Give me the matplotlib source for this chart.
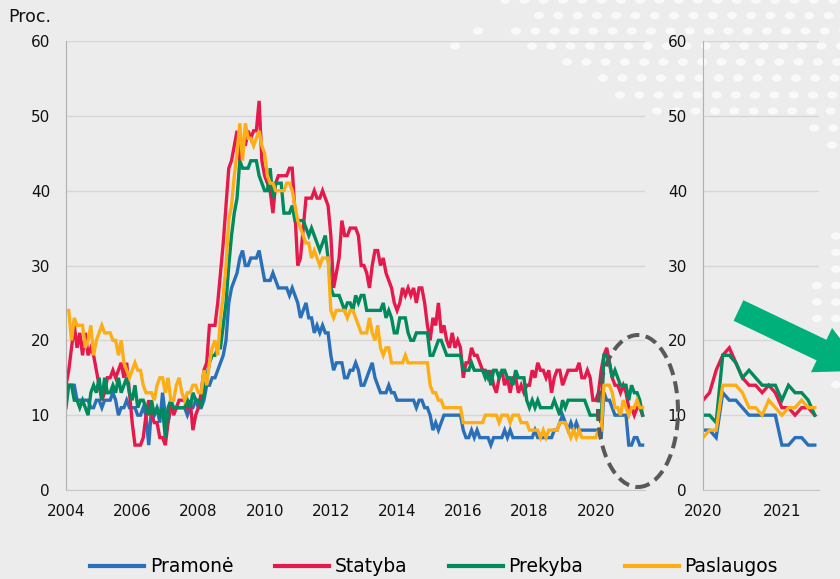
import numpy as np
import matplotlib
matplotlib.use("Agg")
import matplotlib.pyplot as plt
from matplotlib.patches import Ellipse, Polygon

# ---------------- data (monthly, Jan 2004 - Jun 2021, %) ----------------
start_year = 2004
pramone = [
    14, 14, 14, 14, 12, 12, 12, 12, 12, 11, 11, 12,   # 2004
    12, 11, 12, 12, 12, 13, 12, 10, 11, 11, 12, 11,   # 2005
    11, 11, 10, 10, 11, 10, 6, 11, 10, 11, 9, 13,     # 2006
    10, 9, 11, 11, 11, 11, 11, 11, 10, 11, 11, 12,    # 2007
    11, 11, 12, 14, 14, 15, 15, 16, 17, 18, 20, 25,   # 2008
    27, 28, 29, 31, 32, 30, 30, 31, 31, 31, 32, 30,   # 2009
    28, 28, 28, 29, 28, 27, 27, 27, 27, 26, 27, 26,   # 2010
    25, 23, 24, 25, 23, 23, 21, 22, 21, 22, 21, 21,   # 2011
    18, 16, 17, 17, 17, 15, 15, 16, 16, 17, 16, 14,   # 2012
    14, 15, 16, 17, 15, 14, 13, 13, 13, 14, 13, 13,   # 2013
    12, 12, 12, 12, 12, 12, 12, 11, 12, 12, 11, 11,   # 2014
    10, 8, 9, 8, 9, 10, 10, 10, 10, 10, 10, 10,       # 2015
    8, 7, 7, 8, 7, 8, 7, 7, 7, 7, 6, 7,               # 2016
    7, 7, 7, 8, 7, 8, 7, 7, 7, 7, 7, 7,               # 2017
    7, 7, 8, 7, 7, 7, 7, 7, 7, 8, 8, 9,               # 2018
    10, 9, 8, 9, 8, 9, 8, 8, 8, 8, 8, 8,              # 2019
    8, 8, 7, 13, 12, 12, 11, 10, 10, 10, 10, 10,      # 2020
    6, 6, 7, 7, 6, 6,                                 # 2021
]
statyba = [
    14, 16, 19, 22, 19, 21, 18, 21, 18, 19, 18, 16,
    14, 12, 13, 15, 15, 16, 15, 16, 17, 15, 17, 13,
    9, 6, 6, 6, 7, 10, 12, 10, 9, 9, 7, 7,
    6, 9, 12, 10, 11, 12, 12, 12, 11, 12, 8, 10,
    11, 13, 16, 17, 22, 22, 22, 25, 29, 33, 38, 43,
    44, 46, 48, 44, 47, 46, 48, 47, 48, 48, 52, 44,
    42, 41, 40, 37, 41, 42, 42, 42, 42, 43, 43, 37,
    30, 31, 35, 39, 39, 39, 40, 39, 39, 40, 39, 38,
    34, 27, 29, 31, 36, 34, 34, 35, 35, 35, 34, 30,
    30, 29, 27, 30, 32, 32, 30, 31, 29, 28, 27, 25,
    24, 25, 27, 26, 27, 26, 27, 25, 27, 27, 25, 22,
    20, 23, 22, 25, 21, 22, 20, 19, 21, 19, 20, 19,
    15, 17, 17, 19, 18, 18, 17, 16, 16, 15, 16, 14,
    13, 15, 16, 14, 15, 13, 15, 15, 13, 14, 13, 14,
    14, 16, 15, 17, 16, 16, 15, 16, 13, 15, 16, 16,
    14, 15, 16, 16, 16, 16, 17, 15, 15, 16, 15, 12,
    12, 13, 16, 18, 19, 17, 15, 14, 14, 13, 14, 13,
    11, 11, 10, 11, 11, 10,
]
prekyba = [
    11, 14, 14, 12, 12, 11, 12, 11, 10, 13, 14, 13,
    15, 12, 15, 13, 13, 14, 13, 15, 13, 14, 15, 13,
    12, 14, 11, 12, 12, 11, 10, 12, 10, 11, 10, 11,
    7, 11, 12, 11, 11, 11, 11, 11, 12, 11, 13, 12,
    12, 11, 13, 15, 17, 18, 18, 19, 19, 22, 25, 30,
    34, 37, 39, 44, 43, 43, 43, 44, 44, 44, 42, 41,
    40, 40, 43, 39, 41, 41, 41, 37, 37, 37, 38, 36,
    36, 36, 36, 35, 34, 35, 34, 33, 32, 33, 34, 31,
    27, 26, 26, 26, 25, 24, 25, 25, 24, 26, 25, 26,
    26, 24, 24, 24, 24, 24, 24, 25, 23, 24, 23, 21,
    21, 23, 23, 23, 21, 20, 20, 21, 21, 21, 21, 21,
    18, 18, 19, 20, 20, 19, 18, 18, 18, 18, 18, 18,
    16, 16, 16, 17, 16, 16, 16, 16, 15, 16, 14, 16,
    16, 15, 16, 16, 15, 15, 14, 16, 15, 15, 15, 12,
    11, 12, 11, 12, 11, 11, 11, 11, 11, 12, 11, 10,
    12, 11, 12, 12, 12, 12, 12, 12, 12, 11, 10, 10,
    10, 10, 9, 18, 18, 17, 15, 16, 15, 14, 14, 14,
    12, 14, 13, 13, 12, 10,
]
paslaugos = [
    24, 24, 20, 23, 22, 22, 22, 19, 20, 22, 18, 20,
    21, 22, 21, 21, 21, 20, 20, 18, 20, 17, 16, 15,
    16, 17, 16, 16, 14, 13, 13, 13, 12, 14, 15, 15,
    13, 15, 12, 12, 14, 15, 13, 12, 13, 13, 14, 14,
    13, 13, 16, 14, 17, 19, 20, 18, 23, 26, 30, 36,
    38, 42, 45, 49, 44, 49, 47, 47, 46, 47, 48, 46,
    45, 42, 41, 41, 40, 40, 40, 40, 41, 41, 40, 38,
    36, 35, 34, 33, 33, 31, 32, 31, 30, 31, 31, 31,
    24, 23, 24, 24, 24, 24, 23, 24, 24, 23, 22, 21,
    21, 21, 23, 21, 20, 22, 19, 18, 19, 19, 17, 17,
    17, 17, 17, 18, 17, 17, 17, 17, 17, 17, 17, 17,
    14, 13, 13, 12, 12, 11, 11, 11, 11, 11, 11, 11,
    9, 9, 9, 9, 9, 9, 9, 9, 10, 10, 10, 10,
    10, 9, 10, 10, 10, 9, 10, 10, 10, 9, 9, 9,
    8, 8, 8, 8, 7, 8, 7, 8, 8, 8, 8, 9,
    9, 9, 8, 7, 8, 7, 8, 7, 7, 7, 7, 7,
    7, 8, 8, 14, 14, 14, 13, 11, 11, 10, 12, 11,
    10, 11, 11, 12, 11, 11,
]
series_names = ["Pramonė", "Statyba", "Prekyba", "Paslaugos"]
series_colors = ["#2a70b8", "#e5194b", "#008a5e", "#fdae17"]
series = [pramone, statyba, prekyba, paslaugos]

main_xticks = [2004, 2006, 2008, 2010, 2012, 2014, 2016, 2018, 2020]
inset_xticks = [2020, 2021]
yticks = [0, 10, 20, 30, 40, 50, 60]
inset_start = 2020

# ---------------- figure ----------------
W, H = 840, 579
BG = "#ececec"
fig = plt.figure(figsize=(W / 100, H / 100), dpi=100, facecolor=BG)

def fx(px):
    return px / W

def fy(py):
    return 1 - py / H

def dot(x, y):
    fig.patches.append(Ellipse((fx(x), fy(y)), 10 / W, 7.5 / H,
                               transform=fig.transFigure, color="#f9f9f9",
                               zorder=-5, lw=0))

# decorative dot pattern (background)
dot_rows = [(0, 505), (15.5, 539), (31, 516), (46, 532), (62, 567), (78, 603),
            (95, 620), (111, 657), (128, 814), (145, 832)]
for ry, x0 in dot_rows:
    x = x0
    while x < W + 10:
        dot(x, ry)
        x += 19.3
for ry in np.arange(236, 390, 16.5):
    xs = [836] if not (280 < ry < 335) else [817, 836]
    for x in xs:
        dot(x, ry)
for x, ry in [(455, 46), (478, 31)]:
    dot(x, ry)

top, bottom = 41, 490
ax = fig.add_axes([fx(66), fy(bottom), fx(645) - fx(66), (bottom - top) / H])
axi = fig.add_axes([fx(703), fy(bottom), fx(819) - fx(703), (bottom - top) / H])

n = len(pramone)
t = np.array([start_year + i / 12 for i in range(n)])
mask = t >= inset_start - 1e-9

for a, m in [(ax, slice(None)), (axi, mask)]:
    a.set_facecolor("none")
    for name, col, vals in zip(series_names, series_colors, series):
        v = np.asarray(vals, dtype=float)
        a.plot(t[m], v[m], color=col, lw=2.4, label=name, solid_joinstyle="miter")
    a.set_ylim(0, 60)
    a.set_yticks(yticks)
    a.grid(axis="y", color="#d6d6d6", lw=1)
    a.set_axisbelow(True)
    for s in ["top", "right"]:
        a.spines[s].set_visible(False)
    a.spines["left"].set_color("#b0b0b0")
    a.spines["bottom"].set_color("#c8c8c8")
    a.tick_params(length=0, labelsize=11, colors="#111111")
    a.tick_params(axis="y", pad=11.5)
    a.tick_params(axis="x", pad=10)

ax.set_xlim(2004, 2021.49)
ax.set_xticks(main_xticks)
axi.set_xlim(2020, 2021.47)
axi.set_xticks(inset_xticks)

fig.text(fx(8), fy(17), "Proc.", fontsize=12.5, ha="left", va="center", color="#111111")

# dashed ellipse
fig.patches.append(Ellipse((fx(638), fy(411)), 80 / W, 152 / H, transform=fig.transFigure,
                           fill=False, ec="#595959", lw=2.9, ls=(0, (3, 1.6)), zorder=10))

# green arrow
ang = np.deg2rad(25.5)
u = np.array([np.cos(ang), np.sin(ang)])
pdir = np.array([-np.sin(ang), np.cos(ang)])
tail = np.array([738.5, 310.5])
sw, hw, base, tip = 11.4, 24.5, 92, 140
pts = [tail - sw * pdir, tail + base * u - sw * pdir, tail + base * u - hw * pdir,
       tail + tip * u, tail + base * u + hw * pdir, tail + base * u + sw * pdir,
       tail + sw * pdir]
fig.patches.append(Polygon([(fx(x), fy(y)) for x, y in pts], closed=True,
                           transform=fig.transFigure, color="#00b07b", lw=0, zorder=10))

handles, labels = ax.get_legend_handles_labels()
leg = fig.legend(handles, labels, loc="center", bbox_to_anchor=(fx(434), fy(567)), ncol=4,
                 frameon=False, fontsize=13.5, handlelength=2.9, handletextpad=0.3,
                 columnspacing=2.2)
for h in leg.get_lines():
    h.set_linewidth(3)

fig.savefig("out.png", dpi=100, facecolor=BG)
